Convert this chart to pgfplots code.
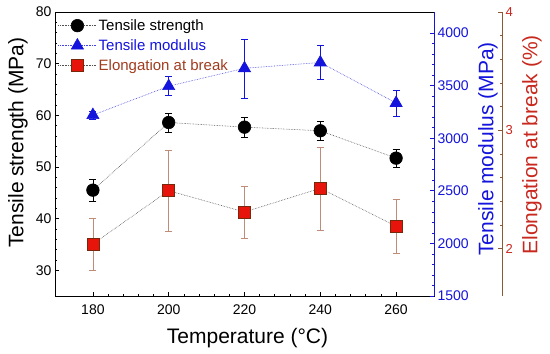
\documentclass[border=0pt]{standalone}
\usepackage{fontspec}
\setmainfont{Liberation Sans}
\usepackage{pgfplots}
\pgfplotsset{compat=1.18}
\definecolor{modblue}{RGB}{20,20,220}
\definecolor{elbrown}{RGB}{140,90,50}
\definecolor{ellabel}{RGB}{200,40,30}
\definecolor{elleg}{RGB}{160,60,30}
\definecolor{sqfill}{RGB}{230,20,10}
\definecolor{sqdraw}{RGB}{120,40,10}
\definecolor{elerr}{RGB}{190,140,120}
\definecolor{dotgray}{RGB}{80,80,80}
\begin{document}
\begin{tikzpicture}
% Axis 1: tensile strength
\begin{axis}[
  scale only axis, width=379pt, height=284pt,
  xmin=170, xmax=270, ymin=25, ymax=80,
  xtick={180,200,220,240,260}, ytick={30,40,50,60,70,80},
  minor x tick num=4, minor y tick num=4,
  tick align=inside,
  major tick length=4.5pt, minor tick length=2.5pt,
  xtick style={black, line width=0.7pt},
  ytick style={black, line width=0.7pt},
  xtick pos=left, ytick pos=left,
  /pgf/number format/assume math mode=true,
  tick label style={font=\fontsize{14}{14}\selectfont},
  xticklabel style={yshift=-5pt},
  xlabel={Temperature (°C)},
  ylabel={Tensile strength (MPa)},
  xlabel style={font=\fontsize{21}{24}\selectfont, at={(axis description cs:0.508,0)}, anchor=center, yshift=-42pt},
  ylabel style={font=\fontsize{21}{24}\selectfont, at={(axis description cs:-0.098,0.54)}, anchor=center},
  legend style={draw=none, fill=none, at={(axis description cs:0.005,0.985)}, anchor=north west,
    font=\fontsize{15}{17}\selectfont, row sep=3.5pt, inner sep=1pt},
  legend cell align=left,
  legend image code/.code={\draw[mark repeat=2,mark phase=2] plot coordinates {(0pt,0pt) (19pt,0pt) (38pt,0pt)};},
]
\addplot[color=dotgray, densely dotted, line width=0.6pt,
  mark=*, mark size=6.3pt, mark options={solid, fill=black, draw=black},
  error bars/.cd, y dir=both, y explicit,
  error bar style={solid, black, line width=0.5pt},
  error mark options={rotate=90, mark size=3.5pt, black, solid}]
  table[x=x, y=y, y error=e] {
x y e
180 45.5 2.2
200 58.6 1.8
220 57.7 2.0
240 57.0 1.9
260 51.7 1.7
};
\addlegendentry{Tensile strength}
\addlegendimage{color=modblue!80, densely dotted, line width=0.6pt, mark=triangle*, mark size=7pt, mark options={solid, fill=modblue, draw=modblue}}
\addlegendentry{\textcolor{modblue}{Tensile modulus}}
\addlegendimage{color=dotgray, densely dotted, line width=0.6pt, mark=square*, mark size=6pt, mark options={solid, fill=sqfill, draw=sqdraw}}
\addlegendentry{\textcolor{elleg}{Elongation at break}}
\end{axis}
% Axis 2: tensile modulus
\begin{axis}[
  scale only axis, width=379pt, height=284pt,
  xmin=170, xmax=270, ymin=1500, ymax=4200,
  axis x line=none, axis y line*=right,
  ytick={1500,2000,2500,3000,3500,4000}, minor y tick num=4,
  tick align=inside,
  major tick length=4.5pt, minor tick length=2.5pt,
  y axis line style={modblue, line width=0.8pt},
  ytick style={modblue, line width=0.7pt},
  /pgf/number format/assume math mode=true,
  /pgf/number format/1000 sep={},
  yticklabel style={modblue, font=\fontsize{14}{14}\selectfont},
  ylabel={Tensile modulus (MPa)},
  ylabel style={font=\fontsize{21}{24}\selectfont, at={(axis description cs:1.1425,0.518)}, anchor=center, modblue},
  ytick align=inside,
]
\addplot[color=modblue!80, densely dotted, line width=0.6pt,
  mark=triangle*, mark size=7pt, mark options={solid, fill=modblue, draw=modblue},
  error bars/.cd, y dir=both, y explicit,
  error bar style={solid, modblue, line width=0.5pt},
  error mark options={rotate=90, mark size=3.5pt, modblue, solid}]
  table[x=x, y=y, y error=e] {
x y e
180 3220 40
200 3495 90
220 3665 280
240 3720 162
260 3335 125
};
\end{axis}
% Axis 3: elongation at break (offset to the right)
\begin{axis}[
  scale only axis, width=447pt, height=284pt,
  xmin=170, xmax=287.94, ymin=1.6, ymax=4,
  axis x line=none, axis y line*=right,
  ytick={2,3,4}, minor y tick num=4,
  tick align=inside,
  major tick length=4.5pt, minor tick length=2.5pt,
  y axis line style={elbrown, line width=0.8pt},
  ytick style={elbrown, line width=0.7pt},
  /pgf/number format/assume math mode=true,
  yticklabel style={ellabel, font=\fontsize{13}{13}\selectfont},
  ylabel={Elongation at break (\%)},
  ylabel style={font=\fontsize{21}{24}\selectfont, at={(axis description cs:1.067,0.532)}, anchor=center, ellabel},
]
\addplot[color=dotgray, densely dotted, line width=0.6pt,
  mark=square*, mark size=6pt, mark options={solid, fill=sqfill, draw=sqdraw},
  error bars/.cd, y dir=both, y explicit,
  error bar style={solid, elerr, line width=0.6pt},
  error mark options={rotate=90, mark size=3.5pt, elerr, solid}]
  table[x=x, y=y, y error=e] {
x y e
180 2.04 0.22
200 2.49 0.34
220 2.31 0.22
240 2.51 0.35
260 2.19 0.23
};
\end{axis}
\pgfresetboundingbox
\path (-55pt,-58pt) rectangle (495pt,296pt);
\end{tikzpicture}
\end{document}
